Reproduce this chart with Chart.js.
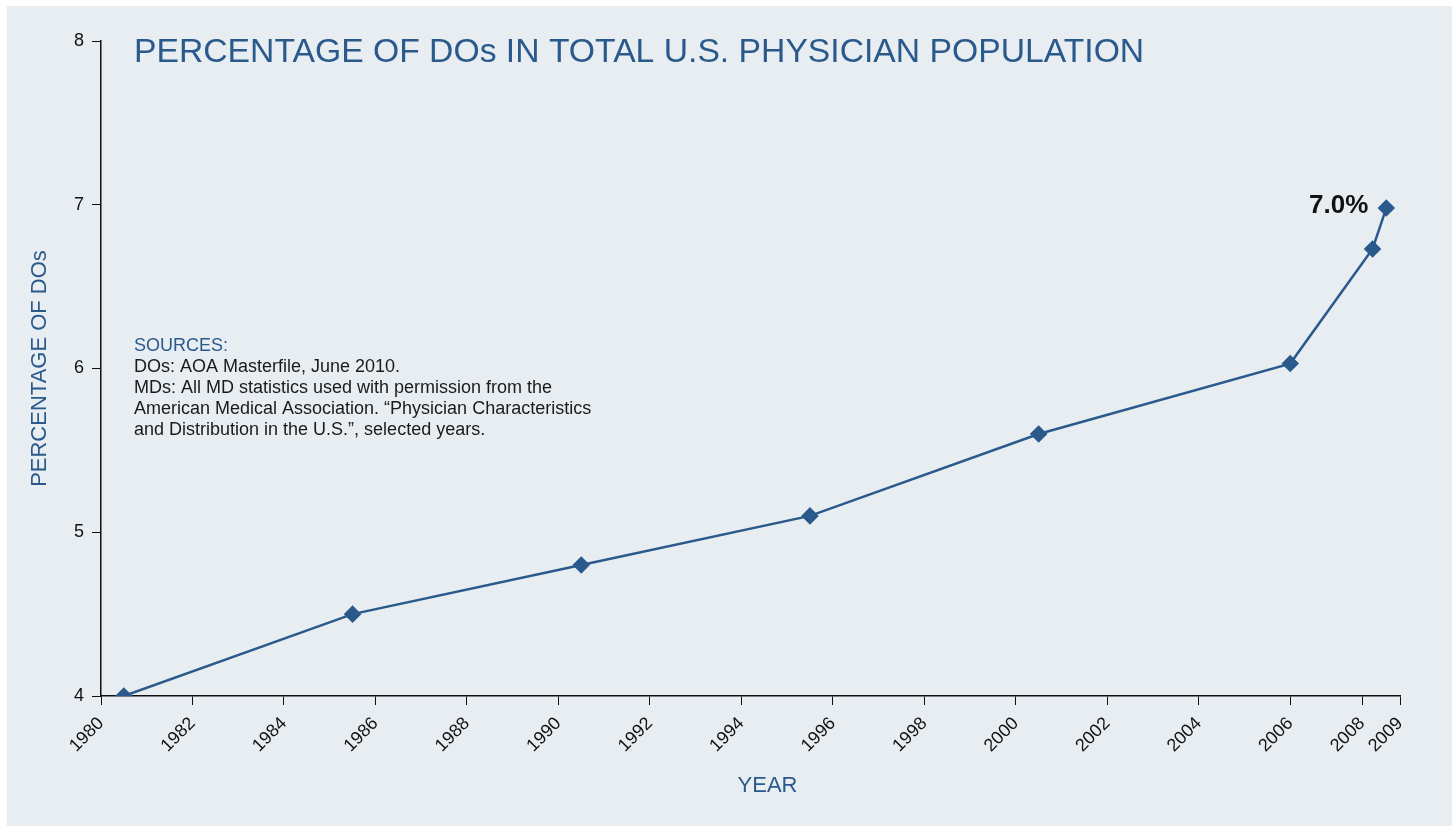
<!DOCTYPE html>
<html>
<head>
<meta charset="utf-8">
<script src="https://cdn.jsdelivr.net/npm/chart.js@4"></script>
<style>
  html, body { margin: 0; padding: 0; background: #ffffff; }
  #wrap { position: absolute; left: 0; top: 0; width: 1453px; height: 829px; }
</style>
</head>
<body>
<div id="wrap"><canvas id="doChart" width="1453" height="829"></canvas></div>
<script>
// valores
const years = [1980.5, 1985.5, 1990.5, 1995.5, 2000.5, 2006, 2007.8, 2008.1];
const pctDOs = [4.0, 4.5, 4.8, 5.1, 5.6, 6.03, 6.73, 6.98];
const xTickValues = [1980, 1982, 1984, 1986, 1988, 1990, 1992, 1994, 1996, 1998, 2000, 2002, 2004, 2006, 2007.57, 2008.4];
const xTickLabels = ['1980', '1982', '1984', '1986', '1988', '1990', '1992', '1994', '1996', '1998', '2000', '2002', '2004', '2006', '2008', '2009'];
const yTicks = [4, 5, 6, 7, 8];
const lastLabel = '7.0%';
const sourceLines = [
  'DOs: AOA Masterfile, June 2010.',
  'MDs: All MD statistics used with permission from the',
  'American Medical Association. \u201CPhysician Characteristics',
  'and Distribution in the U.S.\u201D, selected years.'
];

const blue = '#2a5a8c';
const fontFam = '"Liberation Sans", Arial, Helvetica, sans-serif';

// fundo, titulo, fontes, titulo do eixo x e rotulo 7.0%
const extras = {
  id: 'extras',
  beforeDraw(chart) {
    const c = chart.ctx;
    c.save();
    c.fillStyle = '#e8edf2';
    c.fillRect(7, 6, 1445, 820);
    c.restore();
  },
  afterDraw(chart) {
    const c = chart.ctx;
    const area = chart.chartArea;
    c.save();
    c.textAlign = 'left';
    c.textBaseline = 'middle';
    c.fillStyle = blue;
    c.font = '33.7px ' + fontFam;
    c.fillText('PERCENTAGE OF DOs IN TOTAL U.S. PHYSICIAN POPULATION', area.left + 33, 53);

    c.font = '18px ' + fontFam;
    c.fillText('SOURCES:', area.left + 33, 346);
    c.fillStyle = '#1a1a1a';
    sourceLines.forEach(function (line, i) {
      c.fillText(line, area.left + 33, 367 + i * 21);
    });

    // titulo do eixo x (um pouco a direita do centro, como no original)
    c.fillStyle = blue;
    c.font = '22px ' + fontFam;
    c.textAlign = 'center';
    c.fillText('YEAR', (area.left + area.right) / 2 + 17, 786);

    const meta = chart.getDatasetMeta(0);
    const pt = meta.data[meta.data.length - 1];
    c.fillStyle = '#111111';
    c.font = 'bold 26px ' + fontFam;
    c.textAlign = 'right';
    c.fillText(lastLabel, pt.x - 18, pt.y - 2);
    c.restore();
  }
};

const ctx = document.getElementById('doChart').getContext('2d');
new Chart(ctx, {
  type: 'line',
  data: {
    datasets: [{
      label: 'Percentage of DOs',
      data: years.map(function (y, i) { return { x: y, y: pctDOs[i] }; }),
      borderColor: blue,
      backgroundColor: blue,
      borderWidth: 2.5,
      pointStyle: 'rectRot',
      pointRadius: 7,
      pointHoverRadius: 7,
      tension: 0,
      fill: false
    }]
  },
  options: {
    responsive: false,
    animation: false,
    layout: { padding: { left: 7, top: 41, right: 53, bottom: 3 } },
    plugins: {
      legend: { display: false },
      tooltip: { enabled: false }
    },
    scales: {
      x: {
        type: 'linear',
        min: xTickValues[0],
        max: xTickValues[xTickValues.length - 1],
        afterBuildTicks: function (scale) {
          scale.ticks = xTickValues.map(function (v) { return { value: v }; });
        },
        afterFit: function (scale) { scale.height = 130; },
        ticks: {
          autoSkip: false,
          minRotation: 45,
          maxRotation: 45,
          color: '#111111',
          font: { family: fontFam, size: 18 },
          padding: 8,
          callback: function (v, i) { return xTickLabels[i]; }
        },
        grid: { drawOnChartArea: false, drawTicks: true, tickLength: 9, tickColor: '#111111' },
        border: { color: '#111111', width: 1.5 },
        title: { display: false }
      },
      y: {
        min: yTicks[0],
        max: yTicks[yTicks.length - 1],
        afterBuildTicks: function (scale) {
          scale.ticks = yTicks.map(function (v) { return { value: v }; });
        },
        afterFit: function (scale) { scale.width = 94; },
        ticks: {
          color: '#111111',
          font: { family: fontFam, size: 18 },
          padding: 8
        },
        grid: { drawOnChartArea: false, drawTicks: true, tickLength: 9, tickColor: '#111111' },
        border: { color: '#111111', width: 1.5 },
        title: {
          display: true,
          text: 'PERCENTAGE OF DOs',
          color: blue,
          font: { family: fontFam, size: 22 },
          padding: { top: 20, bottom: 0 }
        }
      }
    }
  },
  plugins: [extras]
});
</script>
</body>
</html>
